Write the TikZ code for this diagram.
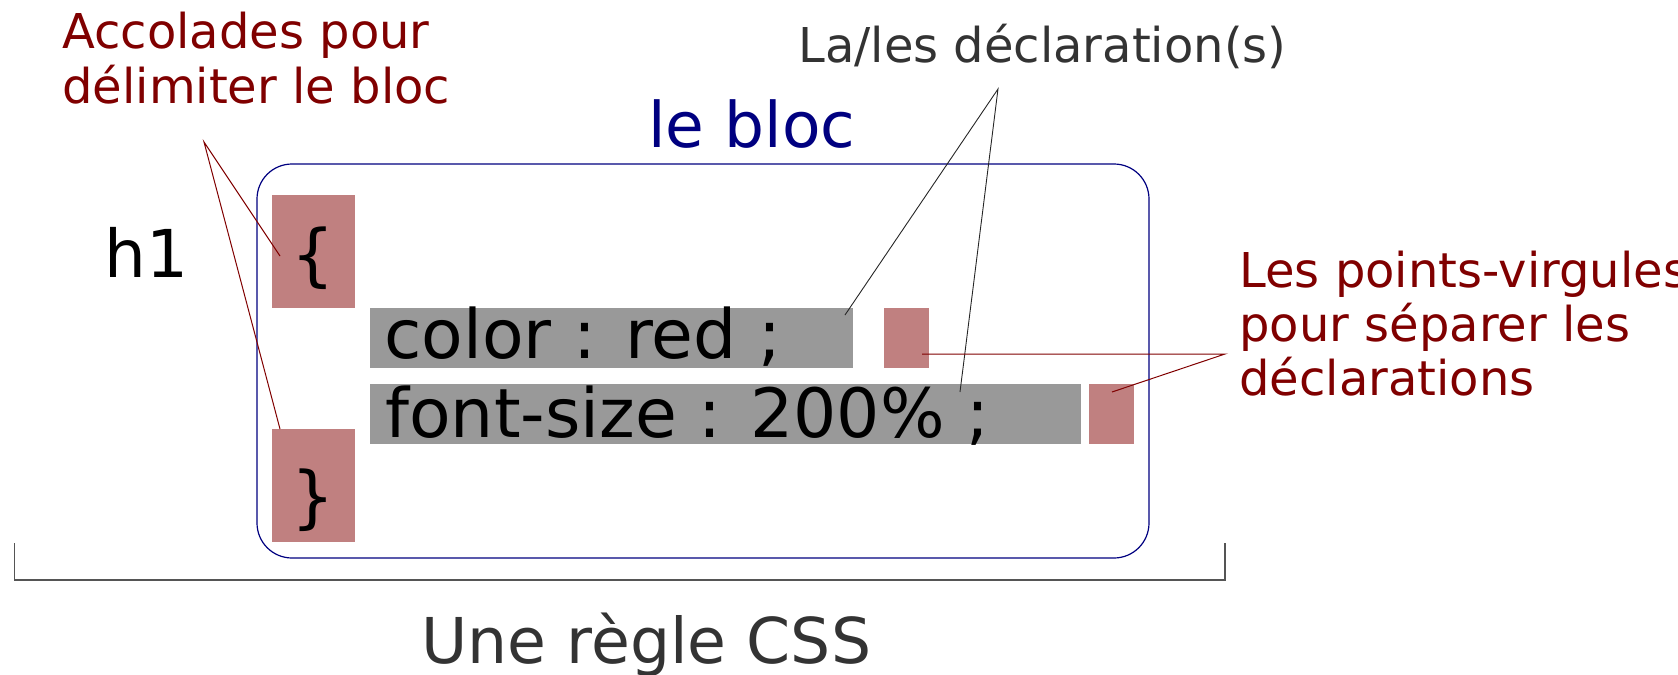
\documentclass[tikz,border=0pt]{standalone}
\usepackage{fontspec}
\setmainfont{DejaVu Sans}
\definecolor{dred}{HTML}{800000}
\definecolor{boxred}{HTML}{C08080}
\definecolor{boxgray}{HTML}{999999}
\definecolor{navyb}{HTML}{000080}
\definecolor{dgray}{HTML}{333333}
\definecolor{bracketgray}{HTML}{555555}
\begin{document}
\begin{tikzpicture}[x=0.5pt,y=-0.5pt,
  lbl/.style={inner sep=0pt, anchor=base west},
  note/.style={lbl, text=dred, font=\fontsize{24}{28}\selectfont},
  code/.style={lbl, font=\fontsize{34}{40}\selectfont},
  bracechar/.style={inner sep=0pt, anchor=base, font=\fontsize{34}{40}\selectfont},
  redbox/.style={fill=boxred, inner sep=0pt, anchor=north west},
  graybox/.style={fill=boxgray, inner sep=0pt, anchor=north west},
  redline/.style={draw=dred, line width=0.5pt},
  blackline/.style={draw=black!85, line width=0.45pt},
  blocframe/.style={draw=navyb, line width=0.6pt, rounded corners=17.5pt},
  rulebracket/.style={draw=bracketgray, line width=0.6pt}]
\useasboundingbox (0,0) rectangle (1678,675);

% frame of the block
\draw[blocframe] (257,164) rectangle (1149,558);

% boxes
\node[redbox, minimum width=41.5pt, minimum height=56.5pt] (ob) at (272,195) {};
\node[redbox, minimum width=41.5pt, minimum height=56.5pt] (cb) at (272,429) {};
\node[graybox, minimum width=241.5pt, minimum height=30pt] (g1) at (370,308) {};
\node[graybox, minimum width=355.5pt, minimum height=30pt] (g2) at (370,384) {};
\node[redbox, minimum width=22.5pt, minimum height=30pt] (s1) at (884,308) {};
\node[redbox, minimum width=22.5pt, minimum height=30pt] (s2) at (1089,384) {};

% texts
\node[note] (acc1) at (62,48) {Accolades pour};
\node[note] (acc2) at (62,103) {délimiter le bloc};
\node[lbl, text=dgray, font=\fontsize{24}{28}\selectfont] (decl) at (798,62) {La/les déclaration(s)};
\node[lbl, text=navyb, font=\fontsize{31.5}{36}\selectfont] (bloc) at (648,147) {le bloc};
\node[lbl, font=\fontsize{33}{38}\selectfont] (h1) at (104,277) {h1};
\node[bracechar] (obc) at (313.5,278) {\{};
\node[bracechar] (cbc) at (313.5,520) {\}};
\node[code] (c1) at (384,358) {color : red ;};
\node[code] (c2) at (385,437) {font-size : 200\% ;};
\node[note] (pv1) at (1239,287) {Les points-virgules};
\node[note] (pv2) at (1239,341) {pour séparer les};
\node[note] (pv3) at (1239,395) {déclarations};
\node[lbl, text=dgray, font=\fontsize{31.6}{36}\selectfont] (regle) at (421,663) {Une règle CSS};

% connector points
\coordinate (accA) at (204,142);
\coordinate (accB) at (280,256);
\coordinate (accC) at (280,429);
\coordinate (decA) at (998,89);
\coordinate (decB) at (845,315);
\coordinate (decC) at (960,392);
\coordinate (pvA) at (1225,354);
\coordinate (pvB) at (922,354);
\coordinate (pvC) at (1112,392);
\coordinate (brL) at (14.5,543);
\coordinate (brR) at (1225,543);

% connectors
\draw[redline] (accB) -- (accA) -- (accC);
\draw[blackline] (decB) -- (decA) -- (decC);
\draw[redline] (pvB) -- (pvA) -- (pvC);
\draw[rulebracket] (brL) -- (brL |- 0,580) -- (brR |- 0,580) -- (brR);
\end{tikzpicture}
\end{document}
